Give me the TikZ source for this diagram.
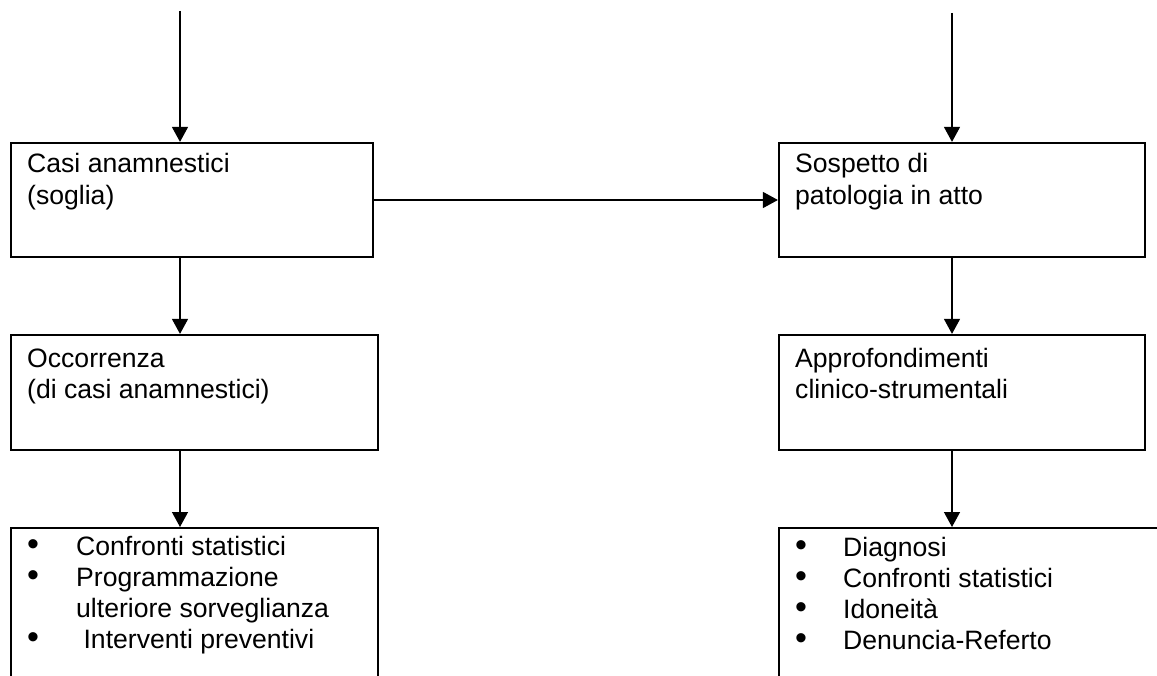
\documentclass[tikz,border=0pt]{standalone}
\usepackage{fontspec}
\setmainfont{Liberation Sans}
\usetikzlibrary{arrows.meta,calc}
\newcommand\blt{\raisebox{0pt}{\fontsize{34}{34}\selectfont •}}
\begin{document}
\begin{tikzpicture}[x=1pt,y=-1pt,
  box/.style={draw, line width=2.2pt, inner sep=0pt},
  edge/.style={line width=2.2pt},
  conn/.style={line width=1.4pt, -{Triangle[length=15pt,width=16pt]}},
  txt/.style={anchor=base west, inner sep=0pt, font=\fontsize{26.6}{31.2}\selectfont}]
\useasboundingbox (0,0) rectangle (1157,676);
% boxes
\node[box, minimum width=362pt, minimum height=114pt] (A) at (192,200) {};
\node[box, minimum width=366pt, minimum height=114pt] (B) at (962,200) {};
\node[box, minimum width=367pt, minimum height=115pt] (C) at (194.5,392.5) {};
\node[box, minimum width=366pt, minimum height=115pt] (D) at (962,392.5) {};
% open bottom boxes
\coordinate (E) at (180,527);
\coordinate (F) at (952,527);
\draw[edge] (11,682) -- (11,528) -- (378,528) -- (378,682);
\draw[edge] (779,682) -- (779,528) -- (1160,528);
% start points
\coordinate (sL) at (180,11);
\coordinate (sR) at (952,13);
% connectors
\draw[conn] (sL) -- (sL |- A.north);
\draw[conn] (sR) -- (sR |- B.north);
\draw[conn] (A) -- (B);
\draw[conn] (sL |- A.south) -- (sL |- C.north);
\draw[conn] (sR |- B.south) -- (sR |- D.north);
\draw[conn] (sL |- C.south) -- (E);
\draw[conn] (sR |- D.south) -- (F);
% texts
\node[txt] (tA) at (27,173) {\begin{tabular}[t]{@{}l@{}}Casi anamnestici\\(soglia)\end{tabular}};
\node[txt] (tB) at (795,173) {\begin{tabular}[t]{@{}l@{}}Sospetto di\\patologia in atto\end{tabular}};
\node[txt] (tC) at (27,367) {\begin{tabular}[t]{@{}l@{}}Occorrenza\\(di casi anamnestici)\end{tabular}};
\node[txt] (tD) at (795,367) {\begin{tabular}[t]{@{}l@{}}Approfondimenti\\clinico-strumentali\end{tabular}};
\node[txt] (tE) at (27,555) {\begin{tabular}[t]{@{}p{49pt}@{}l@{}}\blt & Confronti statistici\\ \blt & Programmazione\\ & ulteriore sorveglianza\\ \blt & \ Interventi preventivi\end{tabular}};
\node[txt] (tF) at (795,556) {\begin{tabular}[t]{@{}p{48pt}@{}l@{}}\blt & Diagnosi\\ \blt & Confronti statistici\\ \blt & Idoneità\\ \blt & Denuncia-Referto\end{tabular}};
\end{tikzpicture}
\end{document}
